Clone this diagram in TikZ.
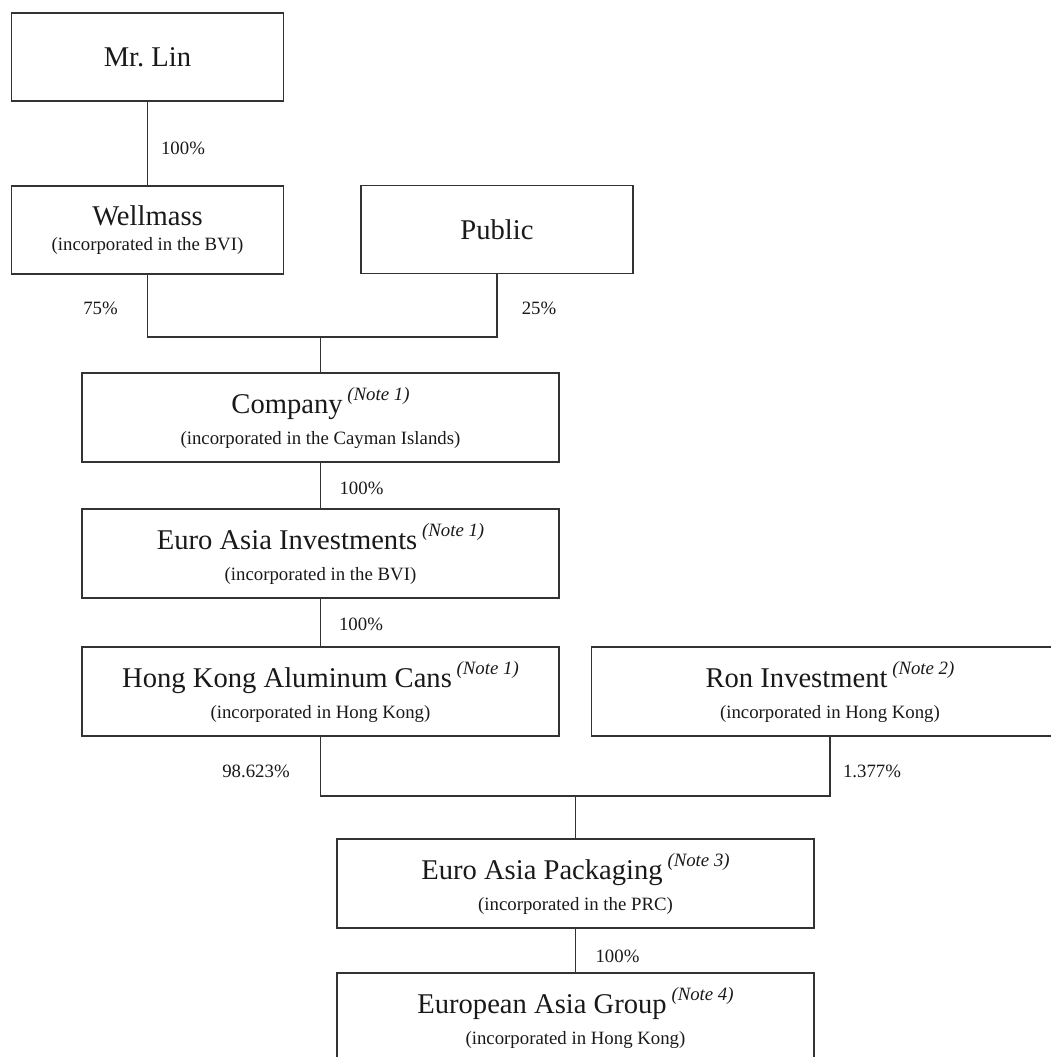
\documentclass[tikz,border=0pt]{standalone}
\usepackage{fontspec}
\setmainfont{Liberation Serif}
\usepackage{tikz}

\newcommand{\notetag}[1]{\,\raisebox{6.5pt}{\fontsize{9.4}{11}\selectfont\itshape (Note #1)}}
\newcommand{\titletext}[1]{{\fontsize{14.3}{15.5}\selectfont #1}}

\begin{document}
\begin{tikzpicture}[x=0.5pt, y=-0.5pt,
    entity/.style={draw=black!80, line width=0.7pt, minimum width=238.5pt,
      minimum height=44.5pt, inner sep=0pt, align=center, text=black!90,
      font=\fontsize{9.4}{15.5}\selectfont},
    smallentity/.style={entity, minimum width=136pt, minimum height=44pt},
    share/.style={anchor=base, font=\fontsize{9.4}{11}\selectfont, text=black!90},
    link/.style={draw=black!80, line width=0.7pt}]

  \useasboundingbox (0,0) rectangle (1051,1057);

  % --- top: owner and listed company ---
  \node[smallentity] (lin) at (147.5, 57) {\titletext{Mr.\ Lin}};
  \node[smallentity] (wellmass) at (147.5, 230)
    {\titletext{Wellmass}\\[-3pt](incorporated in the BVI)};
  \node[smallentity] (public) at (497, 229.5) {\titletext{Public}};
  \node[entity] (company) at (320.5, 417.5)
    {\titletext{Company\notetag{1}}\\(incorporated in the Cayman Islands)};

  \draw[link] (lin) -- (wellmass);
  \node[share] (p1) at (183, 154) {100\%};

  \coordinate (join1) at (320.5, 337);
  \draw[link] (wellmass.south) |- (join1) -| (public.south);
  \draw[link] (join1) -- (company.north);
  \node[share] (p2) at (100.5, 314) {75\%};
  \node[share] (p3) at (539, 314) {25\%};

  % --- middle: holding chain ---
  \node[entity] (eai) at (320.5, 553.5)
    {\titletext{Euro Asia Investments\notetag{1}}\\(incorporated in the BVI)};
  \node[entity] (hkac) at (320.5, 691.5)
    {\titletext{Hong Kong Aluminum Cans\notetag{1}}\\(incorporated in Hong Kong)};
  \node[entity] (ron) at (830, 691.5)
    {\titletext{Ron Investment\notetag{2}}\\(incorporated in Hong Kong)};

  \draw[link] (company) -- (eai);
  \node[share] (p4) at (361.5, 494) {100\%};
  \draw[link] (eai) -- (hkac);
  \node[share] (p5) at (361, 630) {100\%};

  % --- bottom: PRC and HK operating companies ---
  \node[entity] (eap) at (575.5, 883.5)
    {\titletext{Euro Asia Packaging\notetag{3}}\\(incorporated in the PRC)};
  \node[entity] (eag) at (575.5, 1017.5)
    {\titletext{European Asia Group\notetag{4}}\\(incorporated in Hong Kong)};

  \coordinate (join2) at (575.5, 796);
  \draw[link] (hkac.south) |- (join2) -| (ron.south);
  \draw[link] (join2) -- (eap.north);
  \node[share] (p6) at (256, 777) {98.623\%};
  \node[share] (p7) at (872, 777) {1.377\%};

  \draw[link] (eap) -- (eag);
  \node[share] (p8) at (617.5, 962) {100\%};

\end{tikzpicture}
\end{document}
